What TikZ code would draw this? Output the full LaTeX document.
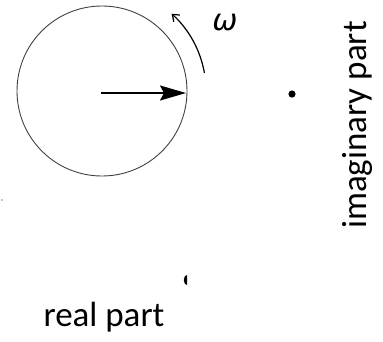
\documentclass[tikz,border=0pt]{standalone}
\usepackage{fontspec}
\setmainfont{Carlito}
\newfontfamily\omegafont{DejaVu Sans}
\usetikzlibrary{arrows.meta}
\begin{document}
\begin{tikzpicture}[x=1pt, y=-1pt,
    lbl/.style={font=\fontsize{35}{40}\selectfont, inner sep=0pt},
    wheelstyle/.style={circle, draw=black!75, line width=0.9pt, minimum size=170pt, inner sep=0pt}]
    \useasboundingbox (0,0) rectangle (383,341);
    % Rotating phasor (left)
    \node[wheelstyle] (wheel) at (102, 91) {};
    \coordinate (hub) at (101, 93);
    \coordinate (tip) at (186, 93);
    \draw[line width=2pt, -{Stealth[length=26pt, width=15pt, inset=4pt]}] (hub) -- (tip);
    \draw[line width=1.2pt, -{Straight Barb[length=6pt, width=9pt]}] (wheel.center) ++(-10:104) arc (-10:-48:104);
    \node[inner sep=0pt, font=\fontsize{30}{34}\selectfont\omegafont\itshape] (omega) at (225, 23) {ω};

    % Projections (right and below)
    \fill (292, 94) circle (3.6);
    \fill (187, 280) ++(90:5) arc (90:270:3.2 and 5) -- cycle;
    \fill (2, 200) circle (0.6);
    \node[lbl, rotate=90] (imag) at (357, 125) {imaginary part};
    \node[lbl] (real) at (104, 317) {real part};
\end{tikzpicture}
\end{document}
